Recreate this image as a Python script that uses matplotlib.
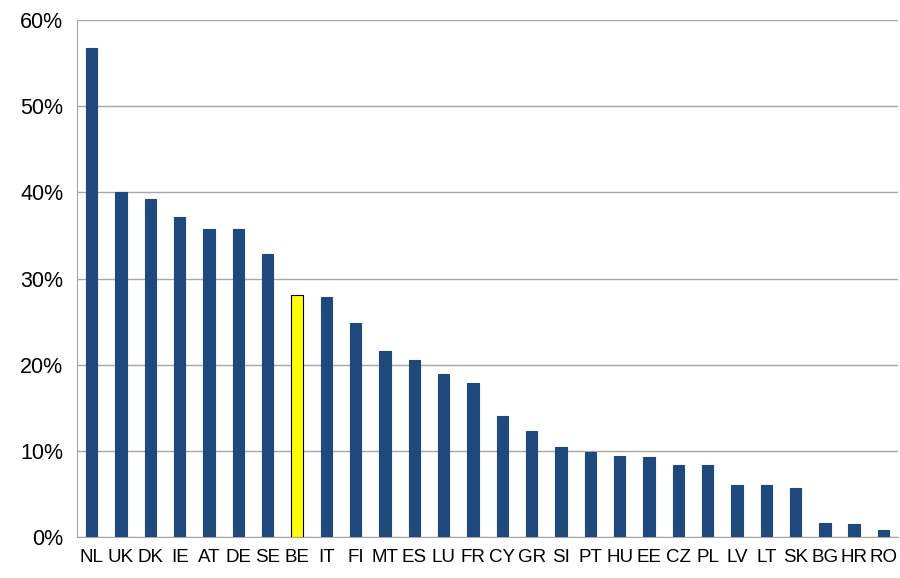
import matplotlib
matplotlib.use("Agg")
import matplotlib.pyplot as plt
from matplotlib.ticker import FuncFormatter

countries = ["NL", "UK", "DK", "IE", "AT", "DE", "SE", "BE", "IT", "FI", "MT", "ES", "LU", "FR",
             "CY", "GR", "SI", "PT", "HU", "EE", "CZ", "PL", "LV", "LT", "SK", "BG", "HR", "RO"]
shares = [56.8, 40.0, 39.2, 37.1, 35.8, 35.8, 32.9, 28.1, 27.9, 24.9, 21.6, 20.5, 18.9, 17.9,
          14.1, 12.3, 10.5, 9.9, 9.4, 9.3, 8.4, 8.3, 6.0, 6.0, 5.7, 1.6, 1.5, 0.8]
highlight = "BE"

plt.rcParams["font.family"] = ["Liberation Sans Narrow", "Liberation Sans", "DejaVu Sans"]

fig = plt.figure(figsize=(9, 5.78), dpi=100)
ax = fig.add_axes([0.0856, 0.071, 0.9124, 0.894])

colors = ["#FFFF00" if c == highlight else "#1F497D" for c in countries]
edges = ["#000000" if c == highlight else "#1F497D" for c in countries]
x = range(len(countries))
ax.bar(x, shares, width=0.39, color=colors, edgecolor=edges, linewidth=0.8, zorder=3)

ax.set_xlim(-0.5, len(countries) - 0.5)
ax.set_ylim(0, 60)
ax.set_yticks(range(0, 61, 10))
ax.yaxis.set_major_formatter(FuncFormatter(lambda v, p: f"{v:.0f}%"))
ax.set_xticks(list(x))
ax.set_xticklabels(countries)
ax.tick_params(axis="both", length=0, colors="#000000")
ax.tick_params(axis="y", pad=10, labelsize=15.5)
ax.tick_params(axis="x", pad=9, labelsize=13.5)

ax.grid(axis="y", color="#A6A6A6", linewidth=1.0, zorder=0)
for side in ["top", "right"]:
    ax.spines[side].set_visible(False)
ax.spines["left"].set_color("#A6A6A6")
ax.spines["bottom"].set_color("#A6A6A6")

fig.savefig("out.png", dpi=100)
